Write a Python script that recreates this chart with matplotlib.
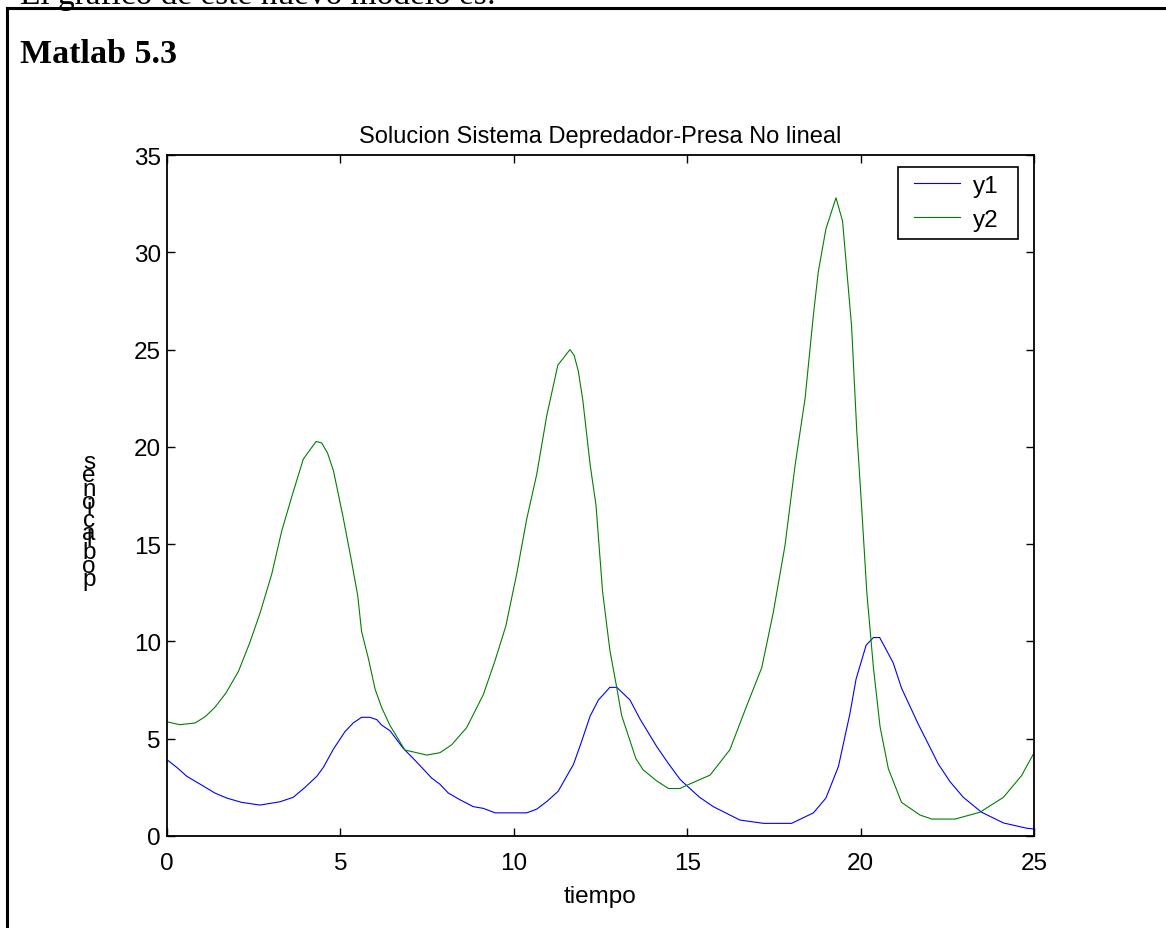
"""
Solucion Sistema Depredador-Presa No lineal
Redraw of the Matlab 5.3 figure (y1 = presa, y2 = depredador)
"""

import matplotlib
matplotlib.use("Agg")
import matplotlib.pyplot as plt
from matplotlib.lines import Line2D
from matplotlib.path import Path
from matplotlib.legend_handler import HandlerLine2D

# ---- data ----
t_y1 = [0, 0.28, 0.57, 0.95, 1.38, 1.72, 2.15, 2.68, 3.26, 3.64, 3.98, 4.32,
        4.51, 4.80, 5.13, 5.37, 5.61, 5.85, 6.05, 6.19, 6.43, 6.81, 7.20, 7.63,
        7.87, 8.11, 8.45, 8.83, 9.12, 9.46, 10.37, 10.66, 10.95, 11.28, 11.72,
        11.94, 12.20, 12.44, 12.77, 12.97, 13.35, 13.64, 14.12, 14.46, 14.79,
        14.98, 15.35, 15.75, 16.52, 17.20, 18.01, 18.64, 19.00, 19.36, 19.69,
        19.87, 20.16, 20.37, 20.55, 20.94, 21.18, 21.66, 22.05, 22.24, 22.58,
        22.96, 23.49, 24.12, 24.79, 25.0]
y1 = [3.92, 3.53, 3.07, 2.67, 2.21, 1.95, 1.73, 1.59, 1.76, 1.99, 2.50, 3.07,
      3.53, 4.47, 5.36, 5.81, 6.10, 6.10, 5.98, 5.70, 5.41, 4.51, 3.80, 2.98,
      2.66, 2.21, 1.86, 1.51, 1.42, 1.19, 1.19, 1.38, 1.77, 2.30, 3.68,
      4.78, 6.16, 6.99, 7.64, 7.64, 6.99, 6.01, 4.60, 3.72, 2.92,
      2.60, 2.00, 1.51, 0.82, 0.65, 0.65, 1.19, 1.95, 3.57, 6.27,
      8.07, 9.81, 10.20, 10.20, 8.90, 7.60, 5.76, 4.38, 3.70, 2.79,
      1.99, 1.22, 0.67, 0.40, 0.36]

t_y2 = [0, 0.37, 0.81, 1.10, 1.38, 1.70, 2.06, 2.39, 2.68, 3.02, 3.31, 3.62,
        3.93, 4.30, 4.46, 4.63, 4.80, 5.07, 5.30, 5.50, 5.61, 5.81, 6.00, 6.19,
        6.43, 6.86, 7.49, 7.87, 8.21, 8.64, 9.12, 9.46, 9.77, 10.08, 10.37,
        10.66, 10.95, 11.27, 11.62, 11.74, 11.86, 11.99, 12.20, 12.37, 12.56,
        12.77, 12.97, 13.11, 13.52, 13.73, 14.12, 14.46, 14.79, 14.98, 15.66,
        16.23, 16.72, 17.15, 17.48, 17.82, 18.11, 18.40, 18.64, 18.78, 19.00,
        19.29, 19.48, 19.74, 19.89, 20.03, 20.18, 20.37, 20.56, 20.80, 21.18,
        21.71, 22.05, 22.72, 23.44, 24.12, 24.64, 25.0]
y2 = [5.87, 5.72, 5.81, 6.13, 6.61, 7.35, 8.46, 9.95, 11.44, 13.46, 15.69, 17.57,
      19.37, 20.28, 20.20, 19.68, 18.77, 16.46, 14.32, 12.35, 10.52, 9.10, 7.55,
      6.60, 5.68, 4.42, 4.16, 4.28, 4.69, 5.57, 7.26, 9.02, 10.79, 13.44, 16.27,
      18.58, 21.60, 24.20, 25.00, 24.70, 23.90, 22.40, 19.10, 17.00, 12.56,
      9.55, 7.61, 6.19, 3.98, 3.40, 2.83, 2.44, 2.44, 2.60, 3.13,
      4.43, 6.71, 8.65, 11.47, 14.93, 19.04, 22.50, 26.80, 29.00, 31.20,
      32.80, 31.60, 26.20, 20.80, 16.90, 12.50, 8.65, 5.63, 3.46, 1.73,
      1.08, 0.87, 0.87, 1.22, 1.99, 3.10, 4.27]

series_labels = ["y1", "y2"]
x_ticks = [0, 5, 10, 15, 20, 25]
y_ticks = [0, 5, 10, 15, 20, 25, 30, 35]

title = "Solucion Sistema Depredador-Presa No lineal"
xlabel = "tiempo"
ylabel = "poblaciones"

W, H = 1166, 929
plt.rcParams["font.family"] = ["Liberation Sans", "DejaVu Sans"]

fig = plt.figure(figsize=(W / 100, H / 100), dpi=100)
ax = fig.add_axes([167 / W, 1 - 837 / H, 867 / W, 681 / H])

ax.plot(t_y1, y1, color=(0, 0, 1), linewidth=0.8, label=series_labels[0])
ax.plot(t_y2, y2, color=(0, 0.5, 0), linewidth=0.8, label=series_labels[1])

ax.set_xlim(0, 25)
ax.set_ylim(0, 35)
ax.set_xticks(x_ticks)
ax.set_yticks(y_ticks)
ax.tick_params(direction="in", length=6, width=1, labelsize=17.5,
               top=True, right=True)
ax.tick_params(axis="x", pad=11.5)
ax.tick_params(axis="y", pad=4.5)
for sp in ax.spines.values():
    sp.set_linewidth(1.3)

ax.set_title(title, fontsize=17, pad=9.5)
ax.set_xlabel(xlabel, fontsize=17.5, labelpad=8)

# Matlab printed the rotated ylabel as upright glyphs stacked on top of each other
adv = {"p": .556, "o": .556, "b": .556, "l": .222, "a": .556, "c": .5,
       "i": .222, "n": .556, "e": .556, "s": .5}
em = 24.2
ypos = 586
for ch in ylabel:
    fig.text(89 / W, 1 - ypos / H, ch, fontsize=17.5, ha="center", va="baseline")
    ypos -= adv[ch] * em


def legend_box(x0, y0, width, height, mutation_size):
    # Matlab legend box has more room on the right of the labels
    x1 = x0 + width + 0.5 * mutation_size
    y1_ = y0 + height
    return Path([(x0, y0), (x1, y0), (x1, y1_), (x0, y1_), (x0, y0)],
                [Path.MOVETO, Path.LINETO, Path.LINETO, Path.LINETO,
                 Path.CLOSEPOLY])


leg = ax.legend(loc="upper right", bbox_to_anchor=(1 - 28 / 867, 1 - 12 / 681),
                borderaxespad=0, fontsize=17.5, handlelength=2.25,
                handletextpad=0.5, labelspacing=0.5, borderpad=0.32,
                fancybox=False, framealpha=1,
                handler_map={Line2D: HandlerLine2D(xpad=0.35)})
leg.get_frame().set_boxstyle(legend_box)
leg.get_frame().set_edgecolor("black")
leg.get_frame().set_linewidth(1.2)

# page context around the figure
fig.text(20 / W, 1 - 4 / H, "El gráfico de este nuevo modelo es:",
         family="Liberation Serif", fontsize=24, va="baseline")
fig.text(20 / W, 1 - 63 / H, "Matlab 5.3", family="Liberation Serif",
         fontsize=24.5, fontweight="bold", va="baseline")
fig.add_artist(Line2D([7 / W, 1], [1 - 9 / H, 1 - 9 / H], color="black",
                      linewidth=2.2, transform=fig.transFigure))
fig.add_artist(Line2D([7 / W, 7 / W], [0, 1 - 9 / H], color="black",
                      linewidth=2.2, transform=fig.transFigure))

fig.savefig("out.png", dpi=100)
